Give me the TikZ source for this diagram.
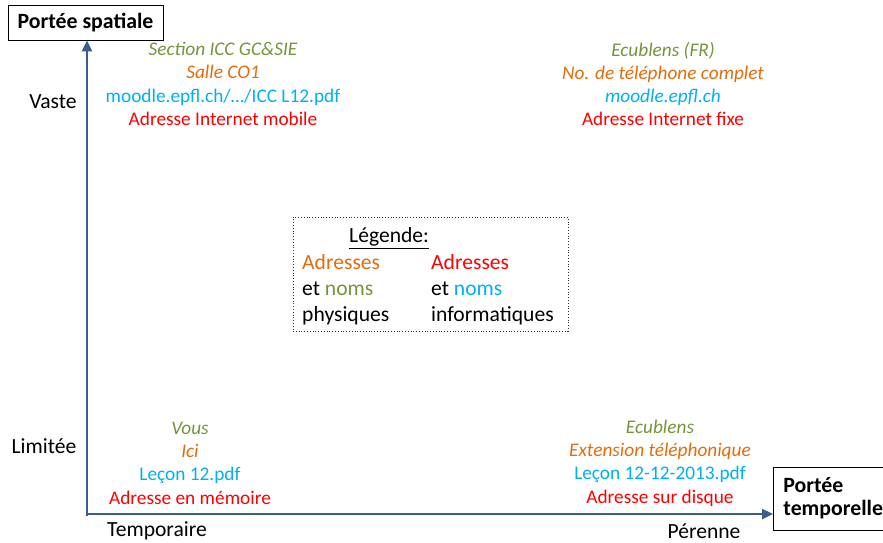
\documentclass[tikz,border=0pt]{standalone}
\usepackage{fontspec}
\setmainfont{Carlito}
\usetikzlibrary{arrows.meta}

\definecolor{nomphys}{HTML}{77933C}
\definecolor{adrphys}{HTML}{E46C0A}
\definecolor{nominfo}{HTML}{00B0F0}
\definecolor{adrinfo}{HTML}{FF0000}
\definecolor{axebleu}{HTML}{3B5E8C}

\tikzset{
  texte/.style={font=\fontsize{19.3}{23.3}\selectfont, inner sep=0pt, align=center},
  grad/.style={font=\fontsize{21.6}{24}\selectfont, inner sep=0pt},
  titre/.style={draw=black, line width=0.9pt, font=\fontsize{21.8}{23.3}\selectfont\bfseries},
  axe/.style={draw=axebleu, line width=2.4pt, -{Triangle[length=11pt,width=10pt]}}
}

\begin{document}
\begin{tikzpicture}[x=1pt,y=-1pt]
\useasboundingbox (0,0) rectangle (883,542);

% titres des axes
\node[titre, minimum width=155pt, minimum height=35pt] (spatiale) at (85.5,22.5) {Portée spatiale};
\node[titre, anchor=west, align=left, minimum height=63pt, inner xsep=10pt] (temporelle) at (773,498.5) {Portée\\temporelle};

% axes
\coordinate (origine) at (87,514);
\draw[axe] (origine |- 0,516) -- (origine |- spatiale.south);
\draw[axe] (origine -| 86,0) -- (origine -| temporelle.west);

% graduations
\node[grad] (vaste) at (53,102) {Vaste};
\node[grad] (limitee) at (44,446) {Limitée};
\node[grad] (temporaire) at (157,531) {Temporaire};
\node[grad] (perenne) at (704,531) {Pérenne};

% exemples
\node[texte] (vastetemp) at (223,84) {\textcolor{nomphys}{\itshape Section ICC GC\&SIE}\\\textcolor{adrphys}{\itshape Salle CO1}\\\textcolor{nominfo}{moodle.epfl.ch/…/ICC L12.pdf}\\\textcolor{adrinfo}{Adresse Internet mobile}};
\node[texte] (vasteper) at (663,84) {\textcolor{nomphys}{\itshape Ecublens (FR)}\\\textcolor{adrphys}{\itshape No. de téléphone complet}\\\textcolor{nominfo}{\itshape moodle.epfl.ch}\\\textcolor{adrinfo}{Adresse Internet fixe}};
\node[texte] (limtemp) at (190,463) {\textcolor{nomphys}{\itshape Vous}\\\textcolor{adrphys}{\itshape Ici}\\\textcolor{nominfo}{Leçon 12.pdf}\\\textcolor{adrinfo}{Adresse en mémoire}};
\node[texte] (limper) at (660,463) {\textcolor{nomphys}{\itshape Ecublens}\\\textcolor{adrphys}{\itshape Extension téléphonique}\\\textcolor{nominfo}{Leçon 12-12-2013.pdf}\\\textcolor{adrinfo}{Adresse sur disque}};

% legende
\node[draw=black!80, dotted, line width=0.8pt, minimum width=275pt, minimum height=114pt, inner sep=0pt, font=\fontsize{21.6}{26.3}\selectfont] (legende) at (430.5,274)
{\begin{tabular}{@{}p{129pt}@{}l@{\hspace{5pt}}}
\multicolumn{2}{@{}l@{}}{\hspace{47pt}\underline{Légende:}}\\
\textcolor{adrphys}{Adresses} & \textcolor{adrinfo}{Adresses}\\
et \textcolor{nomphys}{noms} & et \textcolor{nominfo}{noms}\\
physiques & informatiques\\[-6pt]
\end{tabular}};
\end{tikzpicture}
\end{document}
